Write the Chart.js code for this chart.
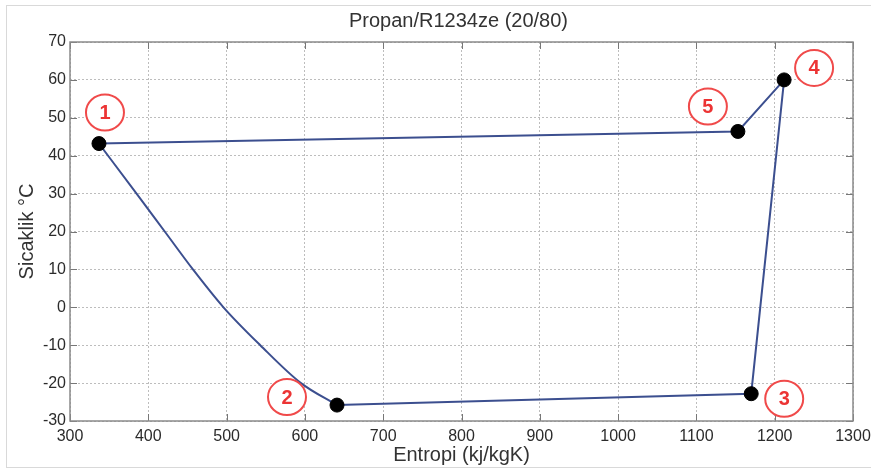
<!DOCTYPE html>
<html>
<head>
<meta charset="utf-8">
<script src="https://cdn.jsdelivr.net/npm/chart.js@4.4.0/dist/chart.umd.min.js"></script>
<style>
  html, body { margin: 0; padding: 0; background: #fff; }
  #wrap { width: 871px; height: 469px; }
</style>
</head>
<body>
<div id="wrap"><canvas id="chart" width="871" height="469"></canvas></div>
<script>
// state points of the cycle (1..5)
const stateNames = ['1', '2', '3', '4', '5'];
const stateEntropy = [337, 641, 1170, 1212, 1153];
const stateTemp = [43.2, -25.8, -22.8, 60, 46.4];

// bent line from state 1 down to state 2, read on the grid lines
const curveEntropy = [385, 421, 457, 496, 543, 595];
const curveTemp = [30, 20, 10, 0, -10, -20];

const chartTitle = 'Propan/R1234ze (20/80)';
const xTitle = 'Entropi (kj/kgK)';
const yTitle = 'Sicaklik °C';

// where the circled numbers sit, in px relative to their point
const labelOffsets = [[6, -31], [-50, -8], [33, 5], [30, -12], [-30, -25]];

const FONT = 'Liberation Sans, Arial, Helvetica, sans-serif';
const LINE = '#3c4f8f';

const pt = i => ({ x: stateEntropy[i], y: stateTemp[i] });
// smooth part: 1 -> 2
const curvePath = [pt(0)];
curveEntropy.forEach((s, i) => curvePath.push({ x: s, y: curveTemp[i] }));
curvePath.push(pt(1));
// straight part: 2 -> 3 -> 4 -> 5 -> 1
const straightPath = [1, 2, 3, 4, 0].map(pt);
const markers = stateNames.map((n, i) => pt(i));

const decor = {
  id: 'decor',
  beforeDraw(chart) {
    const c = chart.ctx;
    c.save();
    c.strokeStyle = '#d9d9d9';
    c.lineWidth = 1;
    c.strokeRect(6.5, 5.5, 900, 462);
    c.fillStyle = '#333';
    c.font = '20px ' + FONT;
    c.textAlign = 'center';
    c.textBaseline = 'middle';
    c.fillText(chartTitle, (chart.chartArea.left + chart.chartArea.right) / 2 - 3, 21);
    c.restore();
  },
  beforeDatasetsDraw(chart) {
    const c = chart.ctx;
    const a = chart.chartArea;
    const xs = chart.scales.x, ys = chart.scales.y;
    c.save();
    c.strokeStyle = '#777';
    c.lineWidth = 1;
    c.beginPath();
    xs.ticks.forEach(t => {
      const px = Math.round(xs.getPixelForValue(t.value)) + 0.5;
      c.moveTo(px, a.bottom); c.lineTo(px, a.bottom - 7);
      c.moveTo(px, a.top); c.lineTo(px, a.top + 7);
    });
    ys.ticks.forEach(t => {
      const py = Math.round(ys.getPixelForValue(t.value)) + 0.5;
      c.moveTo(a.left, py); c.lineTo(a.left + 7, py);
      c.moveTo(a.right, py); c.lineTo(a.right - 7, py);
    });
    c.stroke();
    c.strokeStyle = '#8a8a8a';
    c.lineWidth = 1.5;
    c.strokeRect(a.left, a.top, a.right - a.left, a.bottom - a.top);
    c.restore();
  },
  afterDatasetsDraw(chart) {
    const c = chart.ctx;
    const xs = chart.scales.x, ys = chart.scales.y;
    c.save();
    stateNames.forEach((n, i) => {
      const cx = xs.getPixelForValue(stateEntropy[i]) + labelOffsets[i][0];
      const cy = ys.getPixelForValue(stateTemp[i]) + labelOffsets[i][1];
      c.beginPath();
      c.ellipse(cx, cy, 19, 18, 0, 0, Math.PI * 2);
      c.fillStyle = '#fff';
      c.fill();
      c.strokeStyle = '#f04a4a';
      c.lineWidth = 2;
      c.stroke();
      c.fillStyle = '#ec3434';
      c.font = 'bold 20px ' + FONT;
      c.textAlign = 'center';
      c.textBaseline = 'middle';
      c.fillText(n, cx, cy + 1);
    });
    c.restore();
  }
};

const ctx = document.getElementById('chart').getContext('2d');
const chart = new Chart(ctx, {
  type: 'scatter',
  data: {
    datasets: [
      {
        data: markers,
        showLine: false,
        pointRadius: 7,
        pointBackgroundColor: '#000',
        pointBorderColor: '#000',
        order: 0
      },
      {
        data: curvePath,
        showLine: true,
        cubicInterpolationMode: 'monotone',
        borderColor: LINE,
        borderWidth: 2,
        pointRadius: 0,
        order: 1
      },
      {
        data: straightPath,
        showLine: true,
        tension: 0,
        borderColor: LINE,
        borderWidth: 2,
        pointRadius: 0,
        order: 2
      }
    ]
  },
  options: {
    responsive: false,
    animation: false,
    devicePixelRatio: 1,
    layout: { padding: { top: 42, right: 18, left: 0, bottom: 0 } },
    plugins: {
      legend: { display: false },
      tooltip: { enabled: false },
      title: { display: false }
    },
    scales: {
      x: {
        type: 'linear',
        min: 300,
        max: 1300,
        afterFit: s => { s.height = 48; s.paddingLeft = 0; s.paddingRight = 0; },
        ticks: {
          stepSize: 100, color: '#2b2b2b', font: { family: FONT, size: 16 }, padding: 6, maxRotation: 0,
          callback: v => String(v)
        },
        grid: { color: '#bdbdbd', lineWidth: 1, drawTicks: false },
        border: { display: false, dash: [2, 2] },
        title: { display: true, text: xTitle, color: '#333', font: { family: FONT, size: 20 }, padding: { top: 0, bottom: 2 } }
      },
      y: {
        type: 'linear',
        min: -30,
        max: 70,
        afterFit: s => { s.width = 70; s.paddingTop = 0; s.paddingBottom = 0; },
        ticks: { stepSize: 10, color: '#2b2b2b', font: { family: FONT, size: 16 }, padding: 4 },
        grid: { color: '#bdbdbd', lineWidth: 1, drawTicks: false },
        border: { display: false, dash: [2, 2] },
        title: { display: true, text: yTitle, color: '#333', font: { family: FONT, size: 20 }, padding: { top: 15, bottom: 0 } }
      }
    }
  },
  plugins: [decor]
});
</script>
</body>
</html>
